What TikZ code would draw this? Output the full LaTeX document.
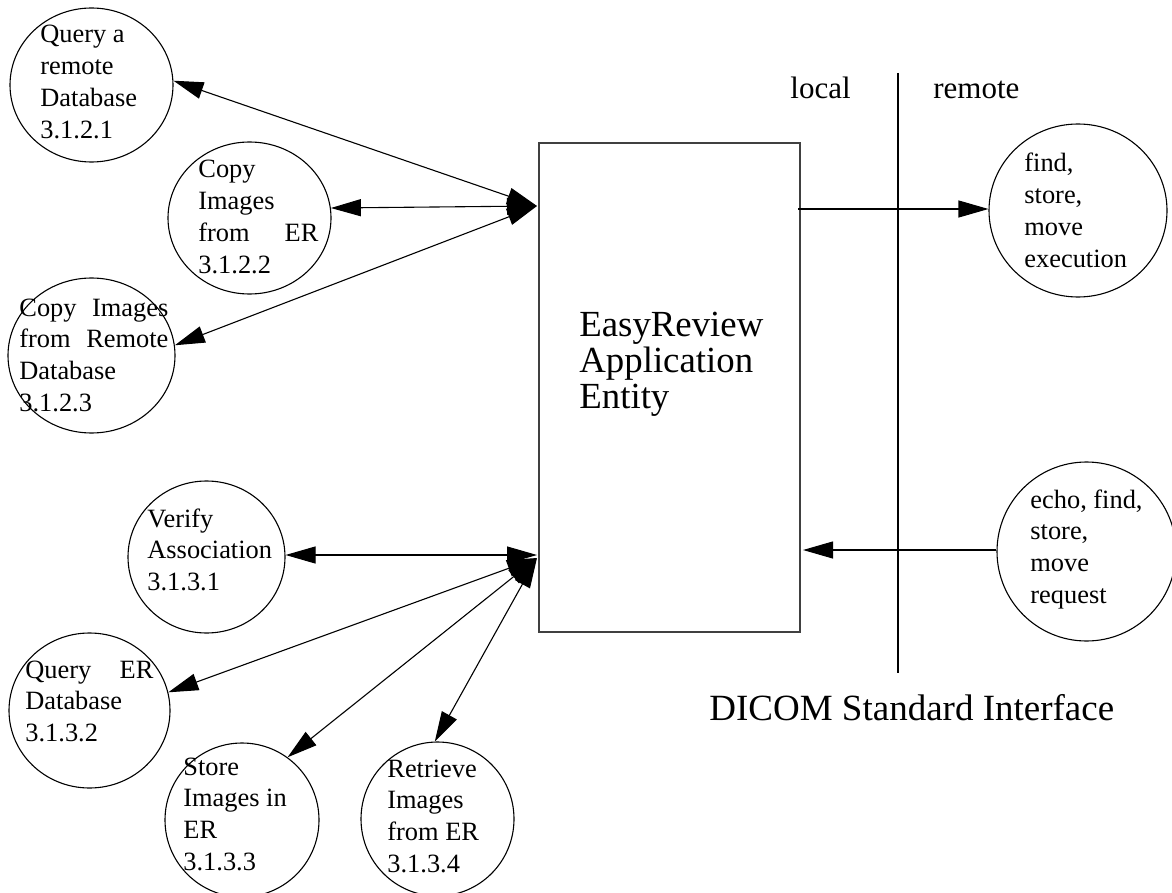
\documentclass[tikz,border=0pt]{standalone}
\usepackage{fontspec}
\setmainfont{Liberation Serif}
\usetikzlibrary{arrows.meta,shapes.geometric}
\newcommand\lns[1]{\begin{tabular}[t]{@{}l@{}}#1\end{tabular}}
\newcommand\jl[2]{\makebox[#1][s]{#2}}
\begin{document}
\begin{tikzpicture}[x=0.5pt,y=-0.5pt,
  proc/.style={draw, ellipse, line width=0.55pt, inner sep=0pt},
  ptxt/.style={anchor=base west, inner sep=0pt, font=\fontsize{13.2}{15.85}\selectfont},
  btxt/.style={anchor=base west, inner sep=0pt, font=\fontsize{18.4}{18}\selectfont},
  side/.style={anchor=base west, inner sep=0pt, font=\fontsize{15.5}{18}\selectfont},
  dbl/.style={line width=0.55pt, arrows={Triangle[length=15pt,width=8.5pt]-Triangle[length=15pt,width=8.5pt]}},
  sgl/.style={line width=0.55pt, arrows={-Triangle[length=15pt,width=8.5pt]}}
]
\useasboundingbox (0,0) rectangle (1172,893);
% main box
\node[draw=black!75, line width=1pt, minimum width=130.5pt, minimum height=244.5pt, inner sep=0pt] (box) at (669.5,387.5) {};
\node[btxt] (boxtxt) at (579,336) {\lns{EasyReview\\Application\\Entity}};
% left processes
\node[proc, minimum width=81.5pt, minimum height=77pt] (q1) at (91.5,85) {};
\node[ptxt] (q1t) at (40,43) {\lns{Query a\\remote\\Database\\3.1.2.1}};
\node[proc, minimum width=81.5pt, minimum height=76pt] (c2) at (249.5,218) {};
\node[ptxt] (c2t) at (198,178) {\lns{Copy\\Images\\\jl{60pt}{from ER}\\3.1.2.2}};
\node[proc, minimum width=83.5pt, minimum height=77.5pt] (c3) at (91.5,355.5) {};
\node[ptxt] (c3t) at (19,316) {\lns{\jl{74.5pt}{Copy Images}\\\jl{74.5pt}{from Remote}\\Database\\3.1.2.3}};
\node[proc, minimum width=78.5pt, minimum height=76pt] (v4) at (206.5,557) {};
\node[ptxt] (v4t) at (147,527) {\lns{Verify\\Association\\3.1.3.1}};
\node[proc, minimum width=80.5pt, minimum height=77.5pt] (q5) at (89.5,710.5) {};
\node[ptxt] (q5t) at (25,678) {\lns{\jl{64pt}{Query ER}\\Database\\3.1.3.2}};
\node[proc, minimum width=77pt, minimum height=77pt] (s6) at (242,820) {};
\node[ptxt] (s6t) at (183,775) {\lns{Store\\Images in\\ER\\3.1.3.3}};
\node[proc, minimum width=76.5pt, minimum height=77pt] (r7) at (437.5,819) {};
\node[ptxt] (r7t) at (387,777) {\lns{Retrieve\\Images\\from ER\\3.1.3.4}};
% remote processes
\node[proc, minimum width=89pt, minimum height=86.5pt] (fd) at (1078,210.5) {};
\node[ptxt] (fdt) at (1024,172) {\lns{find,\\store,\\move\\execution}};
\node[proc, minimum width=89.5pt, minimum height=89.5pt] (ec) at (1086.5,551.5) {};
\node[ptxt] (ect) at (1030,508) {\lns{echo, find,\\store,\\move\\request}};
% divider
\coordinate (divT) at (898,73);
\coordinate (divB) at (898,673);
\draw[line width=0.55pt] (divT) -- (divB);
\node[side] (loc) at (790,99) {local};
\node[side] (rem) at (933,99) {remote};
\node[anchor=base west, inner sep=0pt, font=\fontsize{18.5}{20}\selectfont] (dicom) at (709,720) {DICOM Standard Interface};
% hubs
\coordinate (hubA) at (537,206);
\coordinate (hubV) at (537,555);
\coordinate (hubB) at (537,558);
\draw[dbl] (q1.3) -- (hubA);
\draw[dbl] (c2.7) -- (hubA);
\draw[dbl] (c3.7) -- (hubA);
\draw[dbl] (v4.east |- hubV) -- (hubV);
\draw[dbl] (q5.13) -- (hubB);
\draw[dbl] (s6.54) -- (hubB);
\draw[dbl] (r7.92) -- (hubB);
% right connectors
\coordinate (boxR1) at (798,209);
\coordinate (boxR2) at (803,550);
\draw[sgl] (boxR1) -- (boxR1 -| fd.west);
\draw[sgl] (ec.west |- boxR2) -- (boxR2);
\end{tikzpicture}
\end{document}
